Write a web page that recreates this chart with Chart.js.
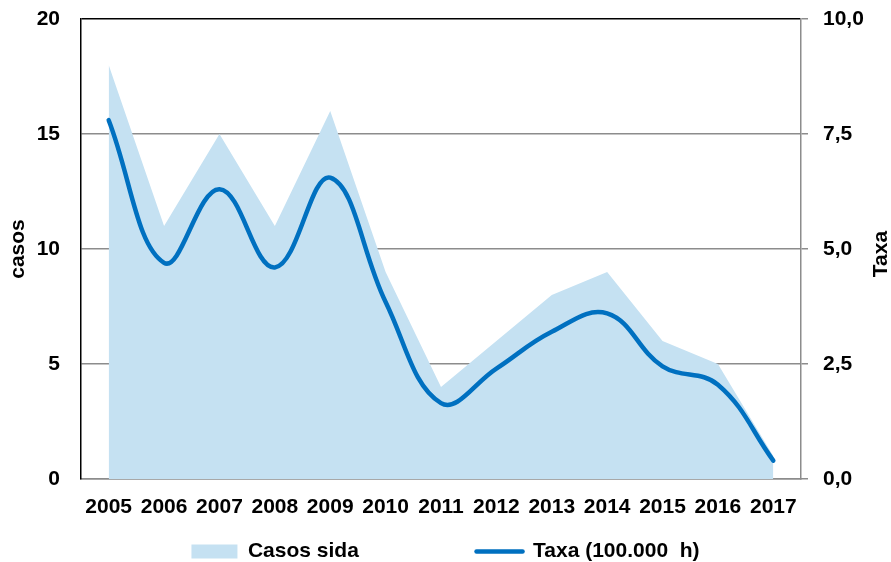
<!DOCTYPE html>
<html>
<head>
<meta charset="utf-8">
<script src="https://cdn.jsdelivr.net/npm/chart.js@4/dist/chart.umd.min.js"></script>
<style>
  html, body { margin: 0; padding: 0; background: #fff; }
  #c { display: block; }
</style>
</head>
<body>
<canvas id="c" width="891" height="562"></canvas>
<script>
const categories = ['2005','2006','2007','2008','2009','2010','2011','2012','2013','2014','2015','2016','2017'];
const casosSida = [18, 11, 15, 11, 16, 9, 4, 6, 8, 9, 6, 5, 1];
const taxa = [7.8, 4.7, 6.3, 4.6, 6.55, 3.85, 1.65, 2.4, 3.2, 3.6, 2.45, 2.05, 0.4];
const casosAxis = { min: 0, max: 20, step: 5 };
const taxaAxis = { min: 0, max: 10, step: 2.5 };
const labelCasos = 'Casos sida';
const labelTaxa = 'Taxa (100.000  h)';

const AREA = '#C5E1F2';
const LINE = '#0070C0';
const GRID = '#8c8c8c';
const FAMILY = '"Liberation Sans", Arial, sans-serif';
const font = { family: FAMILY, size: 21, weight: 'bold' };

Chart.defaults.font.family = FAMILY;

const rightTitle = {
  id: 'rightTitle',
  afterDraw(chart) {
    const ctx = chart.ctx;
    const a = chart.chartArea;
    ctx.save();
    ctx.translate(chart.width - 10, (a.top + a.bottom) / 2 + 5);
    ctx.rotate(-Math.PI / 2);
    ctx.font = 'bold 21px ' + FAMILY;
    ctx.textAlign = 'center';
    ctx.textBaseline = 'middle';
    ctx.fillStyle = '#000';
    ctx.fillText('Taxa', 0, 0);
    ctx.restore();
  }
};

new Chart(document.getElementById('c'), {
  type: 'line',
  data: {
    labels: categories,
    datasets: [
      {
        label: labelTaxa,
        data: taxa,
        yAxisID: 'y1',
        borderColor: LINE,
        borderWidth: 4.5,
        borderCapStyle: 'round',
        tension: 0.4,
        pointRadius: 0,
        fill: false
      },
      {
        label: labelCasos,
        data: casosSida,
        yAxisID: 'y',
        backgroundColor: AREA,
        borderColor: 'rgba(0,0,0,0)',
        borderWidth: 0,
        tension: 0,
        pointRadius: 0,
        fill: 'origin'
      }
    ]
  },
  options: {
    responsive: false,
    animation: false,
    devicePixelRatio: 1,
    layout: { padding: { top: 19, left: 0, right: 0, bottom: -10 } },
    plugins: {
      tooltip: { enabled: false },
      legend: {
        position: 'bottom',
        labels: {
          usePointStyle: true,
          pointStyleWidth: 46,
          boxHeight: 14,
          padding: 1,
          color: '#000',
          font: font,
          generateLabels: () => [
            { text: labelCasos + '\u00A0'.repeat(20), fillStyle: AREA, strokeStyle: AREA, lineWidth: 0, pointStyle: 'rect', fontColor: '#000', datasetIndex: 1, hidden: false },
            { text: labelTaxa, fillStyle: LINE, strokeStyle: LINE, lineWidth: 4.5, lineCap: 'round', pointStyle: 'line', fontColor: '#000', datasetIndex: 0, hidden: false }
          ]
        }
      }
    },
    scales: {
      x: {
        offset: true,
        grid: { display: false, drawTicks: false },
        border: { display: true, color: GRID, width: 1.5 },
        ticks: { color: '#000', font: font, padding: 16, autoSkip: false, maxRotation: 0 },
        afterFit: s => { s.height = 61; }
      },
      y: {
        position: 'left',
        min: casosAxis.min,
        max: casosAxis.max,
        ticks: { stepSize: casosAxis.step, padding: 21, color: '#000', font: font },
        grid: {
          drawTicks: false,
          lineWidth: 1.5,
          color: c => (c.tick && c.tick.value === casosAxis.max) ? '#000' : GRID
        },
        border: { color: '#000', width: 1.5 },
        title: { display: true, text: 'casos', color: '#000', font: font, padding: { top: 6, bottom: 0 } },
        afterFit: s => { s.width = 81; s.paddingTop = 12; s.paddingBottom = 12; }
      },
      y1: {
        position: 'right',
        min: taxaAxis.min,
        max: taxaAxis.max,
        ticks: {
          stepSize: taxaAxis.step,
          padding: 15,
          color: '#000',
          font: font,
          callback: v => v.toFixed(1).replace('.', ',')
        },
        grid: { drawOnChartArea: false, drawTicks: true, tickLength: 7, color: GRID, lineWidth: 1.5 },
        border: { color: GRID, width: 1.5 },
        afterFit: s => { s.width = 90; s.paddingTop = 12; s.paddingBottom = 12; }
      }
    }
  },
  plugins: [rightTitle]
});
</script>
</body>
</html>
